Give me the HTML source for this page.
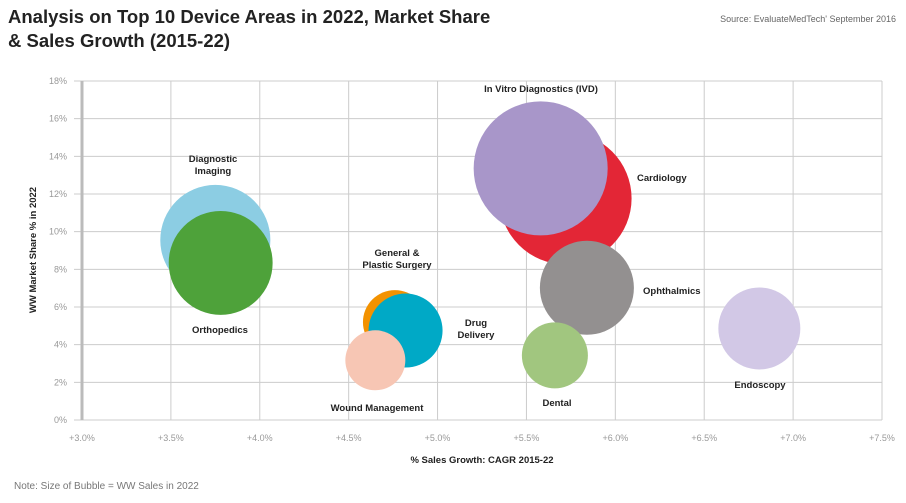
<!DOCTYPE html>
<html><head><meta charset="utf-8"><style>
body{margin:0;background:#fff;font-family:"Liberation Sans",sans-serif}
svg{display:block}
</style></head><body>
<svg id="c" width="906" height="503">
<text x="8" y="23" font-size="18.5" font-weight="bold" fill="#222">Analysis on Top 10 Device Areas in 2022, Market Share</text>
<text x="8" y="47" font-size="18.5" font-weight="bold" fill="#222">&amp; Sales Growth (2015-22)</text>
<text x="896" y="22" font-size="9" fill="#666" text-anchor="end">Source: EvaluateMedTech' September 2016</text>
<g id="grid"></g>
<g id="bubbles"></g>
<g id="labels"></g>
<text x="0" y="0" transform="translate(36,250) rotate(-90)" font-size="9.5" font-weight="bold" fill="#222" text-anchor="middle">WW Market Share % in 2022</text>
<text x="482" y="463" font-size="9.5" font-weight="bold" fill="#222" text-anchor="middle">% Sales Growth: CAGR 2015-22</text>
<text x="14" y="489" font-size="10" fill="#777">Note: Size of Bubble = WW Sales in 2022</text>
</svg>
<script>
const names=["Diagnostic Imaging","Orthopedics","General & Plastic Surgery","Drug Delivery","Wound Management","Cardiology","In Vitro Diagnostics (IVD)","Ophthalmics","Dental","Endoscopy"];
const growth=[3.75,3.78,4.76,4.82,4.65,5.72,5.58,5.84,5.66,6.81];
const share=[9.56,8.34,5.2,4.75,3.17,11.77,13.36,7.02,3.43,4.86];
const sales=[30.3,27.0,10.2,13.7,9.0,43.6,44.9,22.1,10.9,16.8];
const colors=["#8ccde3","#4ea23a","#f39200","#00a9c6","#f7c6b4","#e32636","#a896c9","#939090","#a1c67f","#d2c8e6"];
const xTicks=[3.0,3.5,4.0,4.5,5.0,5.5,6.0,6.5,7.0,7.5];
const yTicks=[0,2,4,6,8,10,12,14,16,18];
const X=v=>82+(v-3)*800/4.5, Y=v=>420-v*339/18, R=v=>10*Math.sqrt(v);
const NS="http://www.w3.org/2000/svg";
function mk(t,a,p){const e=document.createElementNS(NS,t);for(const k in a)e.setAttribute(k,a[k]);p.appendChild(e);return e;}
const g=document.getElementById('grid');
yTicks.forEach(t=>{const l=mk('line',{x1:74,x2:882,y1:Y(t),y2:Y(t),stroke:'#ccc','stroke-width':1},g);


const tx=mk('text',{x:67,y:Y(t)+3,'font-size':9,fill:'#999','text-anchor':'end'},g);tx.textContent=t+'%';

});
xTicks.forEach((t,i)=>{const l=mk('line',{x1:X(t),x2:X(t),y1:Y(18),y2:Y(0),stroke:i==0?'#bbb':'#ccc','stroke-width':i==0?3:1},g);


const tx=mk('text',{x:X(t),y:441,'font-size':9,fill:'#999','text-anchor':'middle'},g);tx.textContent='+'+t.toFixed(1)+'%';

});
const b=document.getElementById('bubbles');
names.forEach((n,i)=>{const c=mk('circle',{cx:X(growth[i]),cy:Y(share[i]),r:R(sales[i]),fill:colors[i]},b);

});
const lab=document.getElementById('labels');
const L=[["Diagnostic|Imaging",213,162,'middle'],["Orthopedics",220,333,'middle'],["General &|Plastic Surgery",397,256,'middle'],["Drug|Delivery",476,326,'middle'],["Wound Management",377,411,'middle'],["Cardiology",637,181,'start'],["In Vitro Diagnostics (IVD)",541,92,'middle'],["Ophthalmics",643,294,'start'],["Dental",557,406,'middle'],["Endoscopy",760,388,'middle']];
L.forEach(a=>{const t=mk('text',{x:a[1],y:a[2],'font-size':9.5,'font-weight':'bold',fill:'#222','text-anchor':a[3]},lab);
a[0].split('|').forEach((s,j)=>{const sp=mk('tspan',{x:a[1],dy:j?12:0},t);sp.textContent=s;});

});
</script>
</body></html>
